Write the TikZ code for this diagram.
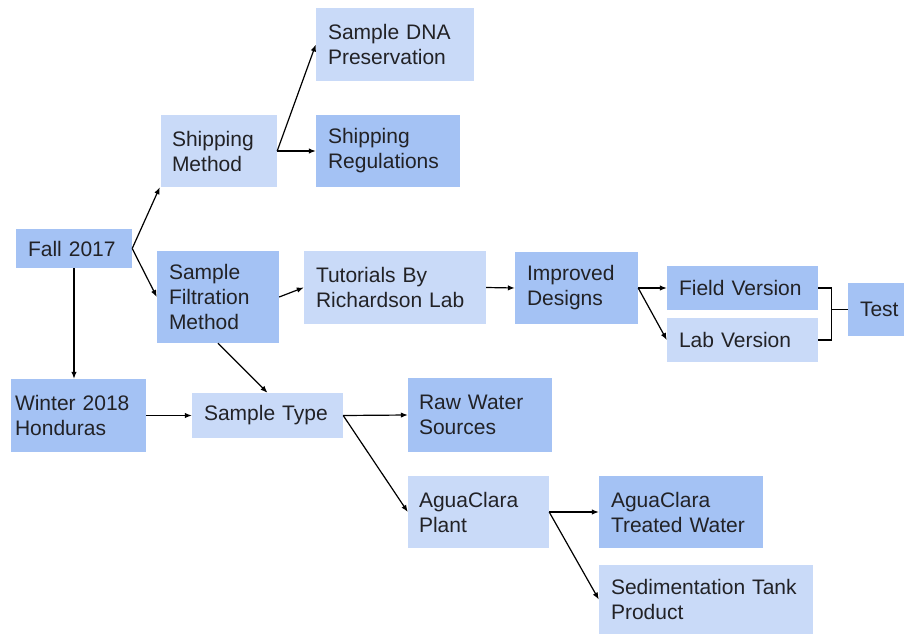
\documentclass[tikz,border=0pt]{standalone}
\usepackage{fontspec}
\setmainfont{Liberation Sans}
\usepackage{tikz}
\usetikzlibrary{arrows.meta}
\usetikzlibrary{calc}
\definecolor{boxlight}{HTML}{C9DAF8}
\definecolor{boxdark}{HTML}{A4C2F4}
\definecolor{ink}{HTML}{222226}
\tikzset{stage/.style={rectangle, inner ysep=0pt, align=left, text=ink, font=\fontsize{21}{25}\selectfont},
  light/.style={fill=boxlight},
  dark/.style={fill=boxdark},
  link/.style={draw=black, line width=1.2pt, -{Latex[length=7pt,width=5.5pt]}}}

\begin{document}
\begin{tikzpicture}[x=1pt,y=-1pt]
  \useasboundingbox (0,0) rectangle (904,634);
  \foreach \xa/\ya/\xb/\yb/\pad/\lab/\col/\txt in {
    316/8/474/81/12/dna/light/{Sample DNA\\Preservation},
    161/115/277/187/11/shipmeth/light/{Shipping\\Method},
    316/115/460/187/12/shipreg/dark/{Shipping\\Regulations},
    16/229/132/268/12/fall/dark/{Fall 2017},
    157/251/279/343/12/filt/dark/{Sample\\Filtration\\Method},
    304/251/486/324/12/tut/light/{Tutorials By\\Richardson Lab},
    515/252/638/324/12/impr/dark/{Improved\\Designs},
    667/266/818/310/12/field/dark/{Field Version},
    667/318/818/362/12/lab/light/{Lab Version},
    848/283/904/336/12/test/dark/{Test},
    11/379/146/452/4/winter/dark/{Winter 2018\\Honduras},
    192/393/343/438/12/type/light/{Sample Type},
    408/378/552/452/11/raw/dark/{Raw Water\\Sources},
    408/476/549/548/11/plant/light/{AguaClara\\Plant},
    599/476/763/548/12/treated/dark/{AguaClara\\Treated Water},
    599/565/813/634/12/sed/light/{Sedimentation Tank\\Product}%
  } {
    \pgfmathsetmacro\bw{\xb-\xa}
    \pgfmathsetmacro\bh{\yb-\ya}
    \pgfmathsetmacro\tw{\xb-\xa-2*\pad}
    \node[stage, \col, inner xsep=\pad pt, text width=\tw pt, minimum width=\bw pt, minimum height=\bh pt] (\lab) at ({(\xa+\xb)/2},{(\ya+\yb)/2}) {\txt};
  }
  \foreach \u/\v in {
    shipmeth.east/dna.west,
    shipmeth.east/shipreg.west,
    fall.east/filt.west,
    filt.east/tut.west,
    filt.south/type.north,
    winter.east/type.west,
    type.east/raw.west,
    type.east/plant.west,
    tut.east/impr.west,
    impr.east/field.west,
    impr.east/lab.west,
    plant.east/treated.west,
    plant.east/sed.west%
  }{
    \draw[link] (\u) -- (\v);
  }
  \draw[link] (fall.east) -- ([xshift=-1pt]shipmeth.south west);
  \draw[link] (fall.south) -- (fall.south |- winter.north);
  % bracket into Test
  \coordinate (join) at ([xshift=-16pt]test.west);
  \draw[line width=1.2pt] (field.east) -| (join) |- (lab.east);
  \draw[line width=1.2pt] (join) -- (test.west);
\end{tikzpicture}
\end{document}
